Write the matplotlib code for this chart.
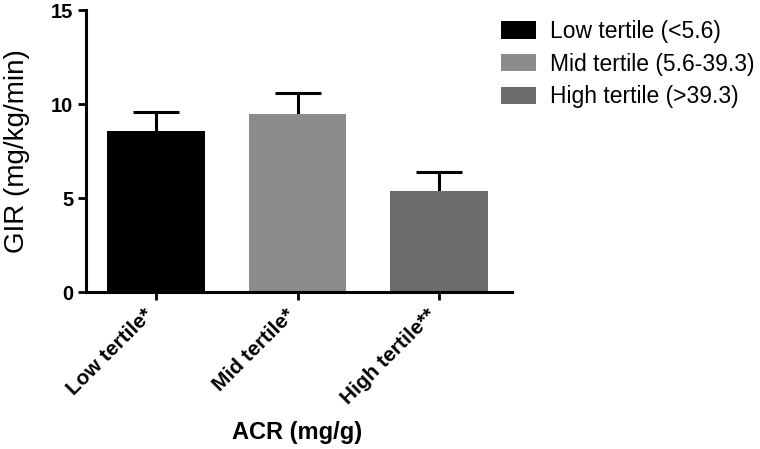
import matplotlib
matplotlib.use("Agg")
import matplotlib.pyplot as plt
import matplotlib.transforms as mtransforms
import numpy as np

plt.rcParams['font.family'] = ['Liberation Sans', 'DejaVu Sans']

categories = ["Low tertile*", "Mid tertile*", "High tertile**"]
legend_labels = ["Low tertile (<5.6)", "Mid tertile (5.6-39.3)", "High tertile (>39.3)"]
means = [8.55, 9.45, 5.37]
errors = [1.04, 1.12, 1.03]
colors = ["#000000", "#8c8c8c", "#6b6b6b"]
yticks = [0, 5, 10, 15]

fig = plt.figure(figsize=(7.6, 4.49), dpi=100)
ax = fig.add_axes([86/760, 1-292/449, (512-86)/760, (292-10)/449])

x = np.arange(len(categories))
bars = ax.bar(x, means, width=0.69, color=colors, label=legend_labels, zorder=2)
ax.errorbar(x, means, yerr=errors, fmt='none',
            ecolor='black', elinewidth=2.2, capsize=16.5, capthick=2.2, zorder=1)

ax.set_xlim(-0.495, 2.515)
ax.set_ylim(0, 15)
ax.set_yticks(yticks)
ax.set_yticklabels([str(t) for t in yticks], fontsize=14.5, fontweight='bold')
ax.set_xticks(x)
ax.set_xticklabels([""] * len(categories))

offset = mtransforms.ScaledTranslation(-4/72, -14.5/72, fig.dpi_scale_trans)
for xi, cat in zip(x, categories):
    ax.text(xi, 0, cat, transform=ax.get_xaxis_transform() + offset,
            fontsize=15, fontweight='bold', rotation=45, ha='right', va='center',
            rotation_mode='anchor')

for s in ['top', 'right']:
    ax.spines[s].set_visible(False)
for s in ['left', 'bottom']:
    ax.spines[s].set_linewidth(2.2)
ax.tick_params(axis='both', direction='out', width=2.0, length=6.0, pad=3)

ax.set_ylabel("GIR (mg/kg/min)", fontsize=20)
ax.yaxis.set_label_coords((30-86)/426, 0.5)
ax.set_xlabel("ACR (mg/g)", fontsize=17, fontweight='bold', va='top')
ax.xaxis.set_label_coords(0.495, (292-421)/282)

leg = fig.legend(handles=bars.patches, labels=legend_labels, loc='upper left',
                 bbox_to_anchor=(501/760, 1-20/449), frameon=False, fontsize=16.5,
                 handlelength=1.52, handleheight=0.78, handletextpad=0.6,
                 labelspacing=0.42, borderpad=0, borderaxespad=0)

fig.savefig("out.png", dpi=100)
